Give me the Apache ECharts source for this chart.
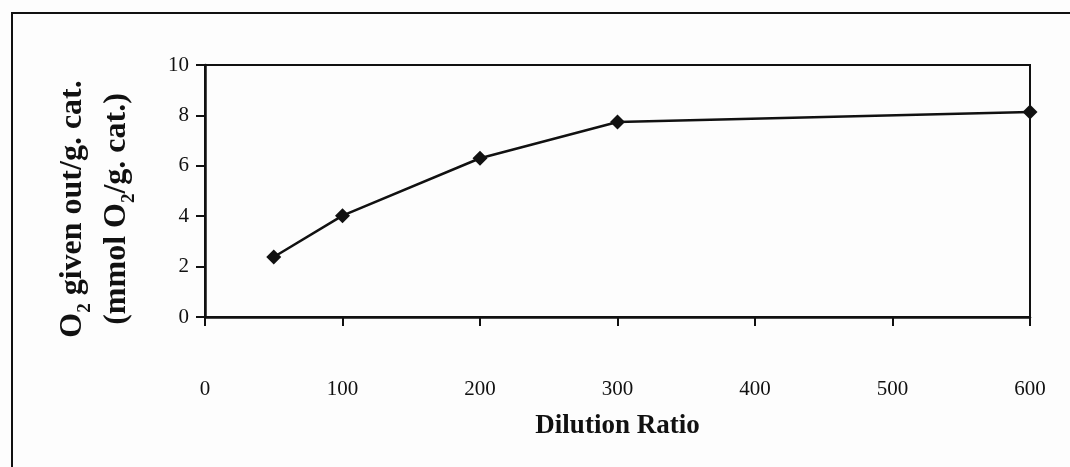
<!DOCTYPE html>
<html>
<head>
<meta charset="utf-8">
<script src="https://cdn.jsdelivr.net/npm/echarts@6/dist/echarts.min.js"></script>
<style>
  html, body { margin: 0; padding: 0; background: #fdfdfd; }
  #chart { width: 1070px; height: 467px; }
</style>
</head>
<body>
<div id="chart"></div>
<script>
var dilution = [50, 100, 200, 300, 600];
var o2Given = [2.38, 4.02, 6.3, 7.74, 8.13];
var xTicks = [0, 100, 200, 300, 400, 500, 600];
var yTicks = [0, 2, 4, 6, 8, 10];

var points = dilution.map(function (d, i) { return [d, o2Given[i]]; });
var serif = '"Liberation Serif", "Times New Roman", serif';

var myChart = echarts.init(document.getElementById('chart'));
var option = {
    backgroundColor: '#fdfdfd',
    animation: false,
    grid: {
        left: 205,
        right: 40,
        top: 65,
        bottom: 150,
        show: true,
        borderColor: '#111',
        borderWidth: 2
    },
    graphic: [
        {
            type: 'polyline',
            shape: { points: [[12, 480], [12, 13], [1080, 13]] },
            style: { stroke: '#111', lineWidth: 2, fill: null }
        }
    ],
    xAxis: {
        type: 'value',
        min: xTicks[0],
        max: xTicks[xTicks.length - 1],
        interval: 100,
        splitLine: { show: false },
        axisLine: { lineStyle: { color: '#111', width: 2.5 } },
        axisTick: { inside: false, length: 9, lineStyle: { color: '#111', width: 2 } },
        axisLabel: { margin: 62, color: '#111', fontFamily: serif, fontSize: 21 },
        name: 'Dilution Ratio',
        nameLocation: 'middle',
        nameGap: 96,
        nameTextStyle: { color: '#111', fontFamily: serif, fontSize: 27, fontWeight: 'bold' }
    },
    yAxis: {
        type: 'value',
        min: yTicks[0],
        max: yTicks[yTicks.length - 1],
        interval: 2,
        splitLine: { show: false },
        axisLine: { lineStyle: { color: '#111', width: 2.5 } },
        axisTick: { length: 9, lineStyle: { color: '#111', width: 2 } },
        axisLabel: { margin: 16, color: '#111', fontFamily: serif, fontSize: 21 },
        name: '{b|O}{s|2}{b| given out/g. cat.}\n{b|(mmol O}{s|2}{b|/g. cat.)}',
        nameLocation: 'middle',
        nameGap: 66,
        nameTextStyle: {
            padding: [0, 36, 0, 0],
            rich: {
                b: { fontFamily: serif, fontSize: 32, fontWeight: 'bold', color: '#111', lineHeight: 44 },
                s: { fontFamily: serif, fontSize: 19, fontWeight: 'bold', color: '#111', lineHeight: 34, verticalAlign: 'bottom' }
            }
        }
    },
    series: [
        {
            type: 'line',
            data: points,
            symbol: 'diamond',
            symbolSize: 15,
            itemStyle: { color: '#111' },
            lineStyle: { color: '#111', width: 2.5 }
        }
    ]
};
myChart.setOption(option);
</script>
</body>
</html>
